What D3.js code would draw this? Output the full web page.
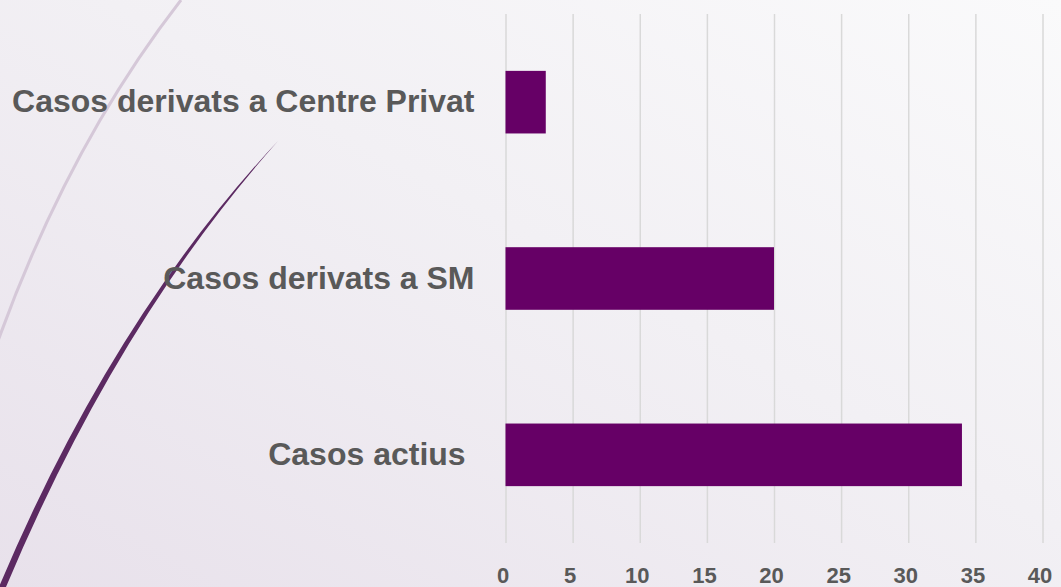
<!DOCTYPE html>
<html>
<head>
<meta charset="utf-8">
<script src="https://cdn.jsdelivr.net/npm/d3@7"></script>
<style>
  html, body { margin: 0; padding: 0; overflow: hidden; }
  body { width: 1061px; height: 587px; }
  .axis text { font-family: "Liberation Sans", Arial, sans-serif; font-weight: bold; fill: #595959; }
  .axis .domain { display: none; }
  .grid line { stroke: #d9d9d9; stroke-width: 1.5; }
  .grid .domain { display: none; }
</style>
</head>
<body>
<div class="chart"></div>
<script>
const categories = ['Casos derivats a Centre Privat', 'Casos derivats a SM', 'Casos actius '];
const values = [3, 20, 34];
const xTicks = [0, 5, 10, 15, 20, 25, 30, 35, 40];

const W = 1061;
const H = 587;
const margin = { top: 14, right: 18.5, bottom: 44, left: 505.5 };
const width = W - margin.left - margin.right;
const height = H - margin.top - margin.bottom;

const svg = d3.select('.chart')
  .append('svg')
  .attr('width', W)
  .attr('height', H);

// background
const defs = svg.append('defs');
const grad = defs.append('linearGradient')
  .attr('id', 'bg')
  .attr('x1', '0%').attr('y1', '100%')
  .attr('x2', '100%').attr('y2', '0%');
grad.append('stop').attr('offset', '0%').attr('stop-color', '#e8e1eb');
grad.append('stop').attr('offset', '55%').attr('stop-color', '#f2f0f4');
grad.append('stop').attr('offset', '100%').attr('stop-color', '#fafafb');

svg.append('rect')
  .attr('width', W)
  .attr('height', H)
  .attr('fill', 'url(#bg)');

// decorative arcs
svg.append('path')
  .attr('d', 'M181,0 Q66,148 -6,352')
  .attr('fill', 'none')
  .attr('stroke', '#d5c8d8')
  .attr('stroke-width', 3);

svg.append('path')
  .attr('d', 'M278,141 Q112,318 -1,587 L6,587 Q117,322 278,141 Z')
  .attr('fill', '#5c2a62');

const g = svg.append('g')
  .attr('transform', `translate(${margin.left},${margin.top})`);

const x = d3.scaleLinear().domain([0, 40]).range([0, width]);
const y = d3.scaleBand()
  .domain(categories)
  .range([0, height])
  .paddingInner(0.645)
  .paddingOuter(0.3225);

g.append('g')
  .attr('class', 'grid')
  .attr('transform', `translate(0,${height})`)
  .call(d3.axisBottom(x).tickValues(xTicks).tickSize(-height).tickFormat(''));

g.selectAll('.bar')
  .data(values)
  .enter()
  .append('rect')
  .attr('class', 'bar')
  .attr('x', x(0))
  .attr('y', (d, i) => y(categories[i]))
  .attr('width', d => x(d) - x(0))
  .attr('height', y.bandwidth())
  .attr('fill', '#660066');

g.append('g')
  .attr('class', 'axis')
  .attr('transform', `translate(0,${height})`)
  .call(d3.axisBottom(x).tickValues(xTicks).tickSize(0).tickPadding(24))
  .selectAll('text')
  .style('font-size', '22px')
  .attr('dx', '-3');

g.append('g')
  .attr('class', 'axis')
  .call(d3.axisLeft(y).tickSize(0).tickPadding(31))
  .selectAll('text')
  .style('font-size', '32px')
  .style('white-space', 'pre');
</script>
</body>
</html>
